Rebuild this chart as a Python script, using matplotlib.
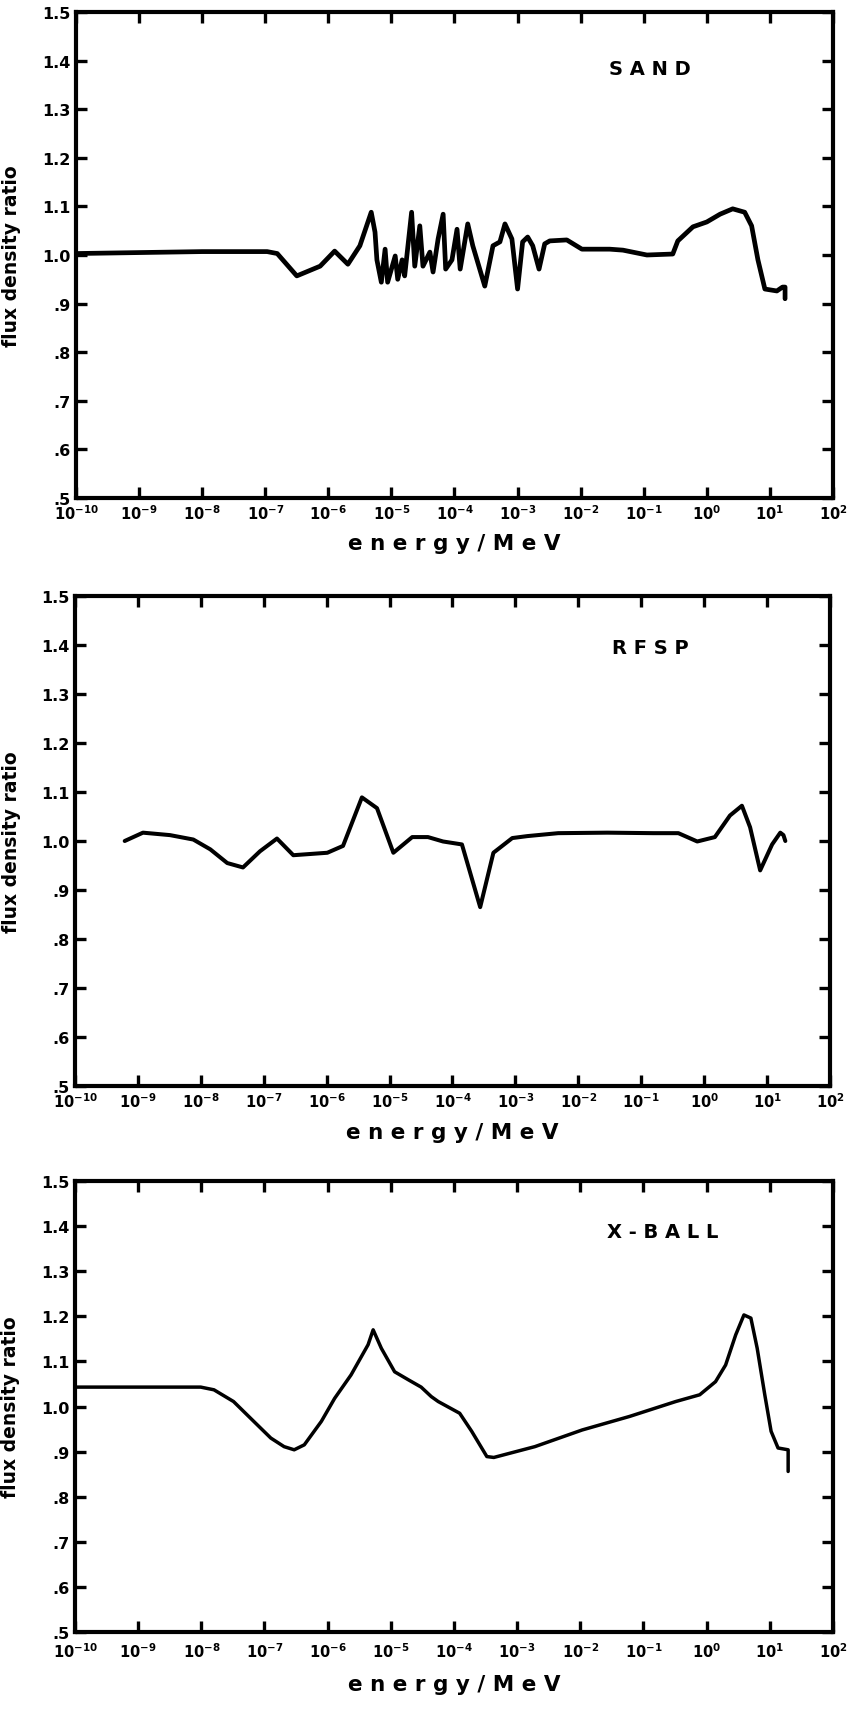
import numpy as np
import matplotlib
matplotlib.use('Agg')
import matplotlib.pyplot as plt

plt.rcParams['font.family'] = ['DejaVu Sans']
plt.rcParams['font.weight'] = 'bold'
plt.rcParams['mathtext.default'] = 'bf'

# log10(energy / MeV) and flux density ratio
sand_logE = [-10.0, -8.0, -6.97, -6.81, -6.50, -6.13, -5.90, -5.69, -5.50, -5.32, -5.26,
             -5.23, -5.16, -5.10, -5.06, -4.94, -4.90, -4.83, -4.79, -4.68, -4.63, -4.55,
             -4.50, -4.39, -4.34, -4.26, -4.18, -4.14, -4.04, -3.96, -3.91, -3.79, -3.71,
             -3.52, -3.39, -3.28, -3.20, -3.09, -3.00, -2.92, -2.84, -2.76, -2.66, -2.57,
             -2.49, -2.22, -1.98, -1.54, -1.33, -0.95, -0.54, -0.46, -0.22, 0.0, 0.21,
             0.41, 0.60, 0.71, 0.81, 0.92, 1.11, 1.20, 1.24, 1.24]
sand_ratio = [1.003, 1.007, 1.007, 1.003, 0.957, 0.977, 1.008, 0.981, 1.019, 1.088, 1.047,
              0.990, 0.944, 1.012, 0.944, 0.998, 0.950, 0.990, 0.957, 1.088, 0.977, 1.060,
              0.977, 1.006, 0.965, 1.033, 1.084, 0.971, 0.990, 1.053, 0.971, 1.064, 1.019,
              0.936, 1.019, 1.027, 1.064, 1.033, 0.930, 1.027, 1.037, 1.019, 0.971, 1.023,
              1.029, 1.031, 1.012, 1.012, 1.010, 1.000, 1.002, 1.029, 1.058, 1.068, 1.084,
              1.095, 1.088, 1.060, 0.990, 0.930, 0.926, 0.934, 0.934, 0.910]

rfsp_logE = [-9.21, -8.92, -8.49, -8.12, -7.85, -7.58, -7.33, -7.06, -6.79, -6.53, -5.99,
             -5.74, -5.44, -5.20, -4.94, -4.64, -4.39, -4.15, -3.85, -3.56, -3.35, -3.05,
             -2.81, -2.32, -1.54, -0.81, -0.41, -0.11, 0.17, 0.41, 0.60, 0.73, 0.89,
             1.08, 1.21, 1.26, 1.29]
rfsp_ratio = [1.000, 1.017, 1.012, 1.003, 0.983, 0.955, 0.946, 0.979, 1.005, 0.971, 0.976,
              0.990, 1.089, 1.067, 0.976, 1.008, 1.008, 0.999, 0.993, 0.865, 0.976, 1.006,
              1.010, 1.016, 1.017, 1.016, 1.016, 0.999, 1.008, 1.052, 1.072, 1.028, 0.940,
              0.993, 1.017, 1.012, 1.000]

xball_logE = [-10.0, -8.01, -7.80, -7.49, -7.17, -6.90, -6.69, -6.53, -6.37, -6.10, -5.89,
              -5.63, -5.36, -5.28, -5.15, -4.94, -4.72, -4.52, -4.36, -4.25, -3.91, -3.72,
              -3.48, -3.37, -2.72, -1.97, -1.22, -0.49, -0.11, 0.14, 0.30, 0.46, 0.59,
              0.70, 0.80, 0.92, 1.02, 1.13, 1.29, 1.29]
xball_ratio = [1.043, 1.043, 1.037, 1.011, 0.967, 0.930, 0.911, 0.904, 0.915, 0.967, 1.018,
               1.070, 1.137, 1.170, 1.129, 1.077, 1.059, 1.043, 1.022, 1.011, 0.985, 0.945,
               0.889, 0.887, 0.911, 0.948, 0.978, 1.011, 1.026, 1.055, 1.092, 1.159, 1.203,
               1.196, 1.129, 1.026, 0.945, 0.908, 0.904, 0.856]

panel_names = ['S A N D', 'R F S P', 'X - B A L L']
name_pos = [(-0.9, 1.383), (-0.85, 1.395), (-0.7, 1.387)]

x_decades = list(range(-10, 3))
x_ticklabels = ['$10^{%d}$' % d for d in x_decades]
y_ticks = [0.5, 0.6, 0.7, 0.8, 0.9, 1.0, 1.1, 1.2, 1.3, 1.4, 1.5]
y_ticklabels = ['.5', '.6', '.7', '.8', '.9', '1.0', '1.1', '1.2', '1.3', '1.4', '1.5']

series = [(sand_logE, sand_ratio, 3.4), (rfsp_logE, rfsp_ratio, 2.9), (xball_logE, xball_ratio, 2.5)]

W, H = 853, 1733
# axes boxes in pixels: left, top, right, bottom
boxes = [(76, 13, 833, 499), (75, 597, 830, 1087), (75, 1182, 833, 1633)]
xlabel_y = [-0.072, -0.074, -0.093]
xtick_pad = [4, 4, 6.5]

fig = plt.figure(figsize=(W / 100, H / 100), dpi=100)

for i, (logE, ratio, lw) in enumerate(series):
    l, t, r, b = boxes[i]
    ax = fig.add_axes([l / W, 1 - b / H, (r - l) / W, (b - t) / H])
    ax.plot(10.0 ** np.array(logE), ratio, color='black', lw=lw,
            solid_joinstyle='round', solid_capstyle='round')
    ax.set_xscale('log')
    ax.set_xlim(1e-10, 1e2)
    ax.set_ylim(0.5, 1.5)
    ax.set_xticks([10.0 ** d for d in x_decades])
    ax.set_xticklabels(x_ticklabels, fontsize=10.5)
    ax.xaxis.set_minor_locator(matplotlib.ticker.NullLocator())
    ax.set_yticks(y_ticks)
    ax.set_yticklabels(y_ticklabels, fontsize=11.5, fontweight='bold')
    ax.tick_params(which='major', direction='in', length=8, width=2.4,
                   top=True, right=True)
    ax.tick_params(axis='x', pad=xtick_pad[i])
    ax.tick_params(axis='y', pad=4)
    for sp in ax.spines.values():
        sp.set_linewidth(3)
    ax.set_ylabel('flux density ratio', fontsize=13.5, fontweight='bold')
    ax.yaxis.set_label_coords(-0.072, 0.5)
    ax.set_xlabel('e n e r g y / M e V', fontsize=15.5, fontweight='bold')
    ax.xaxis.set_label_coords(0.5, xlabel_y[i])
    nx, ny = name_pos[i]
    ax.text(10.0 ** nx, ny, panel_names[i], ha='center', va='center',
            fontsize=14, fontweight='bold')

fig.savefig('out.png', dpi=100)
